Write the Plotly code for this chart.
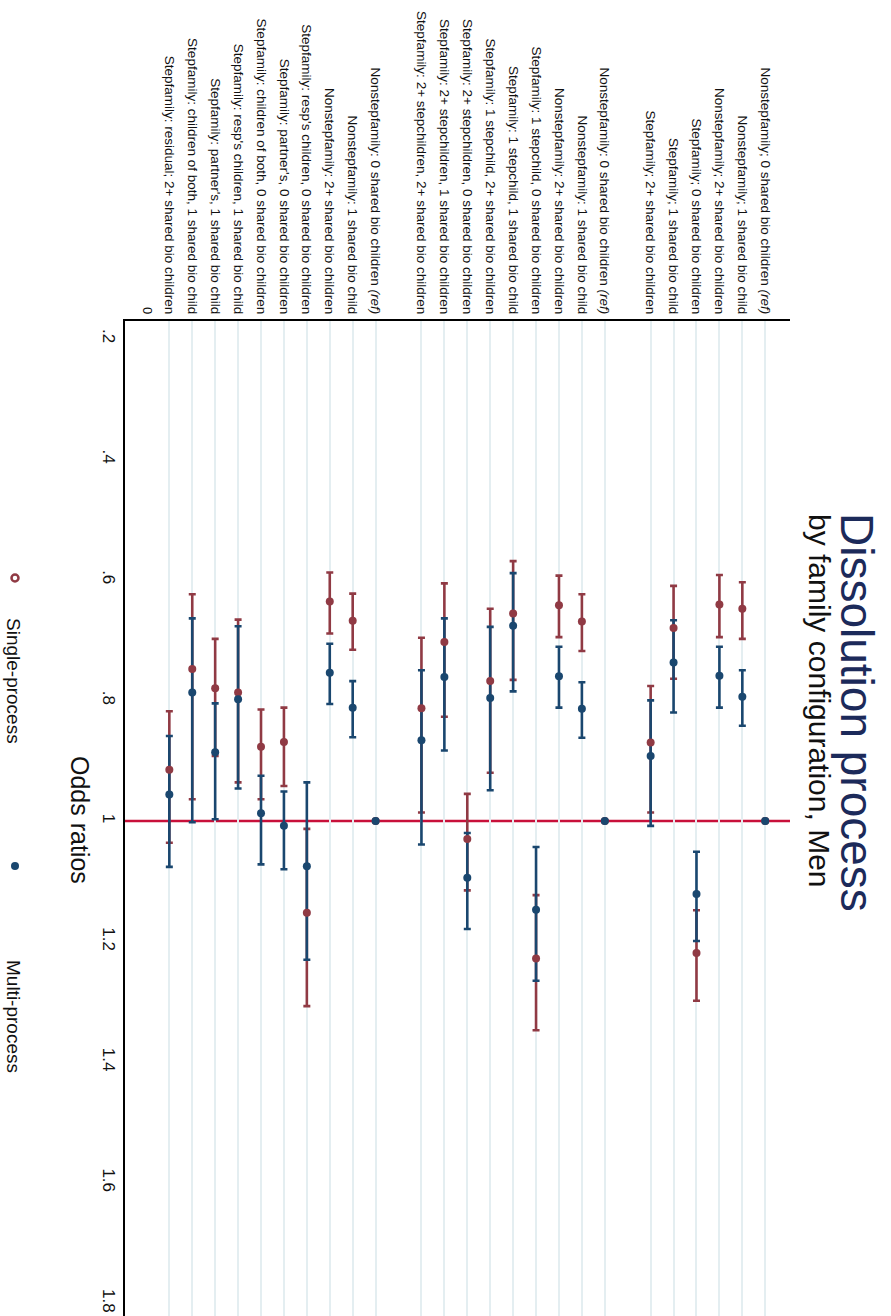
import plotly.graph_objects as go

# ---- Data: odds ratios with 95% CI, three model specifications ----
# Each group: labels, single-process (OR, lo, hi), multi-process (OR, lo, hi).
# Reference categories carry OR = 1 and no interval.

g1_labels = [
    "Nonstepfamily; 0 shared bio children <i>(ref)</i>",
    "Nonstepfamily; 1 shared bio child",
    "Nonstepfamily; 2+ shared bio children",
    "Stepfamily; 0 shared bio children",
    "Stepfamily; 1 shared bio child",
    "Stepfamily; 2+ shared bio children",
]
g1_single = [1.0, 0.648, 0.641, 1.219, 0.680, 0.870]
g1_single_lo = [None, 0.604, 0.592, 1.148, 0.610, 0.776]
g1_single_hi = [None, 0.698, 0.695, 1.298, 0.764, 0.986]
g1_multi = [1.0, 0.794, 0.759, 1.121, 0.737, 0.892]
g1_multi_lo = [None, 0.750, 0.711, 1.051, 0.667, 0.800]
g1_multi_hi = [None, 0.842, 0.812, 1.199, 0.820, 1.008]

g2_labels = [
    "Nonstepfamily: 0 shared bio children <i>(ref)</i>",
    "Nonstepfamily: 1 shared bio child",
    "Nonstepfamily: 2+ shared bio children",
    "Stepfamily: 1 stepchild, 0 shared bio children",
    "Stepfamily: 1 stepchild, 1 shared bio child",
    "Stepfamily: 1 stepchild, 2+ shared bio children",
    "Stepfamily: 2+ stepchildren, 0 shared bio children",
    "Stepfamily: 2+ stepchildren, 1 shared bio children",
    "Stepfamily: 2+ stepchildren, 2+ shared bio children",
]
g2_single = [1.0, 0.669, 0.642, 1.228, 0.656, 0.768, 1.030, 0.703, 0.813]
g2_single_lo = [None, 0.624, 0.593, 1.123, 0.569, 0.648, 0.955, 0.606, 0.696]
g2_single_hi = [None, 0.718, 0.695, 1.347, 0.766, 0.920, 1.115, 0.827, 0.986]
g2_multi = [1.0, 0.814, 0.760, 1.147, 0.676, 0.796, 1.094, 0.761, 0.866]
g2_multi_lo = [None, 0.770, 0.711, 1.043, 0.589, 0.678, 1.020, 0.664, 0.750]
g2_multi_hi = [None, 0.862, 0.812, 1.265, 0.785, 0.949, 1.179, 0.883, 1.039]

g3_labels = [
    "Nonstepfamily: 0 shared bio children <i>(ref)</i>",
    "Nonstepfamily: 1 shared bio child",
    "Nonstepfamily: 2+ shared bio children",
    "Stepfamily: resp's children, 0 shared bio children",
    "Stepfamily: partner's, 0 shared bio children",
    "Stepfamily: children of both, 0 shared bio children",
    "Stepfamily: resp's children, 1 shared bio child",
    "Stepfamily: partner's, 1 shared bio child",
    "Stepfamily: children of both, 1 shared bio child",
    "Stepfamily: residual; 2+ shared bio children",
]
g3_single = [1.0, 0.668, 0.636, 1.152, 0.869, 0.877, 0.787, 0.780, 0.748, 0.915]
g3_single_lo = [None, 0.623, 0.588, 1.013, 0.812, 0.815, 0.666, 0.698, 0.624, 0.818]
g3_single_hi = [None, 0.716, 0.689, 1.307, 0.942, 0.964, 0.936, 0.892, 0.964, 1.036]
g3_multi = [1.0, 0.812, 0.754, 1.075, 1.008, 0.987, 0.798, 0.886, 0.787, 0.956]
g3_multi_lo = [None, 0.768, 0.706, 0.936, 0.951, 0.925, 0.677, 0.805, 0.664, 0.859]
g3_multi_hi = [None, 0.861, 0.806, 1.230, 1.080, 1.072, 0.946, 0.997, 1.002, 1.076]

or_ticks = [0.2, 0.4, 0.6, 0.8, 1.0, 1.2, 1.4, 1.6, 1.8]
or_ticktext = [".2", ".4", ".6", ".8", "1", "1.2", "1.4", "1.6", "1.8"]

# ---- Assemble rows: last group first, one empty slot between groups ----
groups = [
    (g1_labels, g1_single, g1_single_lo, g1_single_hi, g1_multi, g1_multi_lo, g1_multi_hi),
    (g2_labels, g2_single, g2_single_lo, g2_single_hi, g2_multi, g2_multi_lo, g2_multi_hi),
    (g3_labels, g3_single, g3_single_lo, g3_single_hi, g3_multi, g3_multi_lo, g3_multi_hi),
]
pos, labels = [], []
s_or, s_lo, s_hi, m_or, m_lo, m_hi = [], [], [], [], [], []
slot = 1
for gi, g in enumerate(reversed(groups)):
    if gi > 0:
        slot += 1
    lab, so, sl, sh, mo, ml, mh = g
    for i in reversed(range(len(lab))):
        pos.append(slot)
        labels.append(lab[i])
        s_or.append(so[i]); s_lo.append(sl[i]); s_hi.append(sh[i])
        m_or.append(mo[i]); m_lo.append(ml[i]); m_hi.append(mh[i])
        slot += 1


def err_plus(v, hi):
    return [None if h is None else h - x for x, h in zip(v, hi)]


def err_minus(v, lo):
    return [None if l is None else x - l for x, l in zip(v, lo)]


RED = "#903a44"
BLUE = "#1a476f"
REFLINE = "#c8103a"
GRID = "#e4eef1"
FONT = "Liberation Sans, Arial, sans-serif"

W, H = 891, 1316
ML, MR, MT, MB = 125, 101, 321, 0


def fx(px):
    return (px - ML) / (W - ML - MR)


def fy(py):
    return (H - MB - py) / (H - MT - MB)


fig = go.Figure()

# interval whiskers (drawn beneath all point markers)
for vals, lo, hi, col in [(s_or, s_lo, s_hi, RED), (m_or, m_lo, m_hi, BLUE)]:
    fig.add_trace(go.Scatter(
        x=pos, y=vals, mode="markers",
        marker=dict(size=8, color=col, opacity=0),
        error_y=dict(type="data", symmetric=False,
                     array=err_plus(vals, hi), arrayminus=err_minus(vals, lo),
                     color=col, thickness=2.6, width=3.5),
        showlegend=False, hoverinfo="skip",
    ))

# point estimates
fig.add_trace(go.Scatter(x=pos, y=s_or, mode="markers", name="Single-process",
                         marker=dict(size=8, color=RED), showlegend=False))
fig.add_trace(go.Scatter(x=pos, y=m_or, mode="markers", name="Multi-process",
                         marker=dict(size=8, color=BLUE), showlegend=False))

# reference line at OR = 1
fig.add_shape(type="line", xref="paper", x0=0, x1=1, yref="y", y0=1, y1=1,
              line=dict(color=REFLINE, width=2.6), layer="between")

annotations = [
    dict(text="Dissolution process", x=fx(857), y=fy(712), textangle=90,
         font=dict(size=46, color="#1c2a5a", family=FONT)),
    dict(text="by family configuration, Men", x=fx(820), y=fy(701), textangle=90,
         font=dict(size=30, color="#111111", family=FONT)),
    dict(text="Odds ratios", x=fx(80), y=fy(820), textangle=90,
         font=dict(size=25, color="#111111", family=FONT)),
    dict(text="0", x=fx(147), y=fy(310), textangle=90,
         font=dict(size=13, color="#111111", family=FONT)),
    dict(text="Single-process", x=fx(14), y=fy(681), textangle=90,
         font=dict(size=19, color="#111111", family=FONT)),
    dict(text="Multi-process", x=fx(14), y=fy(1016), textangle=90,
         font=dict(size=19, color="#111111", family=FONT)),
]
for a in annotations:
    a.update(xref="paper", yref="paper", showarrow=False,
             xanchor="center", yanchor="middle")

# legend keys
fig.add_shape(type="circle", xref="paper", yref="paper", xsizemode="pixel", ysizemode="pixel",
              xanchor=fx(15), yanchor=fy(578), x0=-3.5, x1=3.5, y0=-3.5, y1=3.5,
              fillcolor="white", line=dict(color=RED, width=2.5))
fig.add_shape(type="circle", xref="paper", yref="paper", xsizemode="pixel", ysizemode="pixel",
              xanchor=fx(15), yanchor=fy(866), x0=-4, x1=4, y0=-4, y1=4,
              fillcolor=BLUE, line=dict(color=BLUE, width=0))

fig.update_layout(
    width=W, height=H,
    margin=dict(l=ML, r=MR, t=MT, b=MB, pad=0),
    paper_bgcolor="white", plot_bgcolor="white",
    showlegend=False,
    annotations=annotations,
    xaxis=dict(
        range=[-0.934, 28.08], side="top",
        tickmode="array", tickvals=pos, ticktext=labels, tickangle=90,
        tickfont=dict(size=13.5, color="#111111", family=FONT),
        ticks="", showgrid=True, gridcolor=GRID, gridwidth=2,
        showline=True, linecolor="black", linewidth=2, zeroline=False,
    ),
    yaxis=dict(
        range=[1.8209, 0.1708],
        tickmode="array", tickvals=or_ticks, ticktext=or_ticktext, tickangle=90,
        tickfont=dict(size=17, color="#111111", family=FONT),
        ticks="", showgrid=False,
        showline=True, linecolor="black", linewidth=2, zeroline=False,
    ),
)

fig.write_html("out.html")
